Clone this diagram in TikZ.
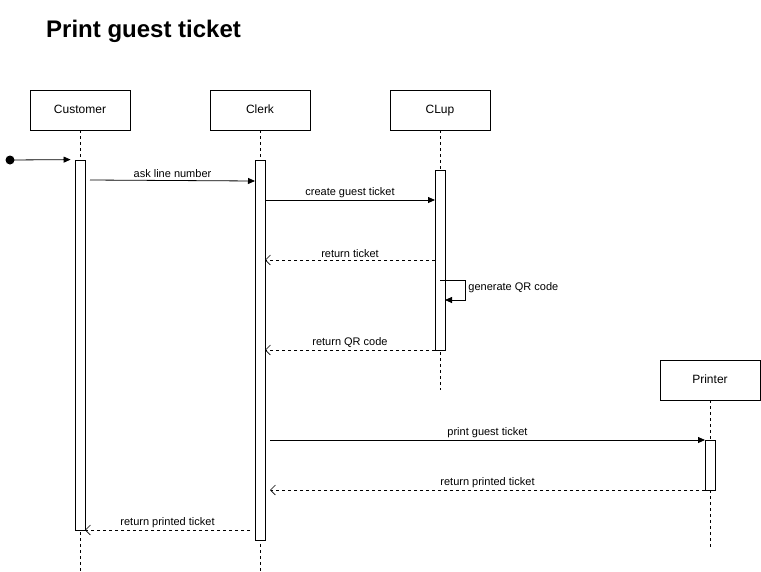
\documentclass[tikz,border=0pt]{standalone}
\usepackage{fontspec}
\setmainfont{Liberation Sans}
\usetikzlibrary{positioning,arrows.meta,calc}

\tikzset{
  actor/.style={draw, fill=white, minimum width=100pt, minimum height=40pt, inner sep=0pt, text height=9pt, text depth=2.5pt, font=\fontsize{12}{14}\selectfont, line width=0.8pt},
  act/.style={draw, fill=white, minimum width=10pt, inner sep=0pt, line width=0.8pt},
  life/.style={dash pattern=on 3pt off 3pt, line width=0.8pt},
  msg/.style={-{Triangle[length=7pt,width=6pt]}, line width=0.8pt},
  ret/.style={dash pattern=on 3pt off 3pt, -{Straight Barb[length=5pt,width=10pt]}, line width=0.6pt},
  lbl/.style={font=\fontsize{11}{13}\selectfont, above, inner sep=2pt}
}

\begin{document}
\begin{tikzpicture}[x=1pt,y=-1pt]
\useasboundingbox (0,0) rectangle (761,571);

% title
\node[font=\fontsize{24}{28}\selectfont\bfseries, anchor=base west, inner sep=0pt] (title) at (46,37) {Print guest ticket};

% actors
\node[actor] (customer) at (80,110) {Customer};
\node[actor] (clerk) at (260,110) {Clerk};
\node[actor] (clup) at (440,110) {CLup};
\node[actor] (printer) at (710,380) {Printer};

% lifelines
\coordinate (customerend) at (80,571);
\coordinate (clerkend) at (260,571);
\coordinate (clupend) at (440,390);
\coordinate (printerend) at (710,548);
\draw[life] (customer.south) -- (customerend);
\draw[life] (clerk.south) -- (clerkend);
\draw[life] (clup.south) -- (clupend);
\draw[life] (printer.south) -- (printerend);

% activations
\node[act, minimum height=370pt] (customeract) at (80,345) {};
\node[act, minimum height=380pt] (clerkact) at (260,350) {};
\node[act, minimum height=180pt] (clupact) at (440,260) {};
\node[act, minimum height=50pt] (printeract) at (710,465) {};

% start
\coordinate (start) at (10,160);
\fill (start) circle (4.5pt);
\draw[msg] (start) -- ($(customeract.north west)+(-4,0)$);

% messages
\coordinate (m1a) at (90,180);
\coordinate (m1b) at (255,181);
\draw[msg] (m1a) -- node[lbl] {ask line number} (m1b);

\coordinate (m2a) at (265,200);
\coordinate (m2b) at (435,200);
\draw[msg] (m2a) -- node[lbl] {create guest ticket} (m2b);

\coordinate (m3a) at (435,260);
\coordinate (m3b) at (265,260);
\draw[ret] (m3a) -- node[lbl] {return ticket} (m3b);

\coordinate (selfa) at (440,280);
\coordinate (selfb) at (445,300);
\draw[msg] (selfa) -- (465,280) -- node[right, font=\fontsize{11}{13}\selectfont, pos=0.4, inner sep=3pt] {generate QR code} (465,300) -- (selfb);

\coordinate (m4a) at (435,350);
\coordinate (m4b) at (265,350);
\draw[ret] (m4a) -- node[lbl] {return QR code} (m4b);

\coordinate (m5a) at (270,440);
\coordinate (m5b) at (705,440);
\draw[msg] (m5a) -- node[lbl] {print guest ticket} (m5b);

\coordinate (m6a) at (705,490);
\coordinate (m6b) at (270,490);
\draw[ret] (m6a) -- node[lbl] {return printed ticket} (m6b);

\coordinate (m7a) at (250,530);
\coordinate (m7b) at (85,530);
\draw[ret] (m7a) -- node[lbl] {return printed ticket} (m7b);
\end{tikzpicture}
\end{document}
